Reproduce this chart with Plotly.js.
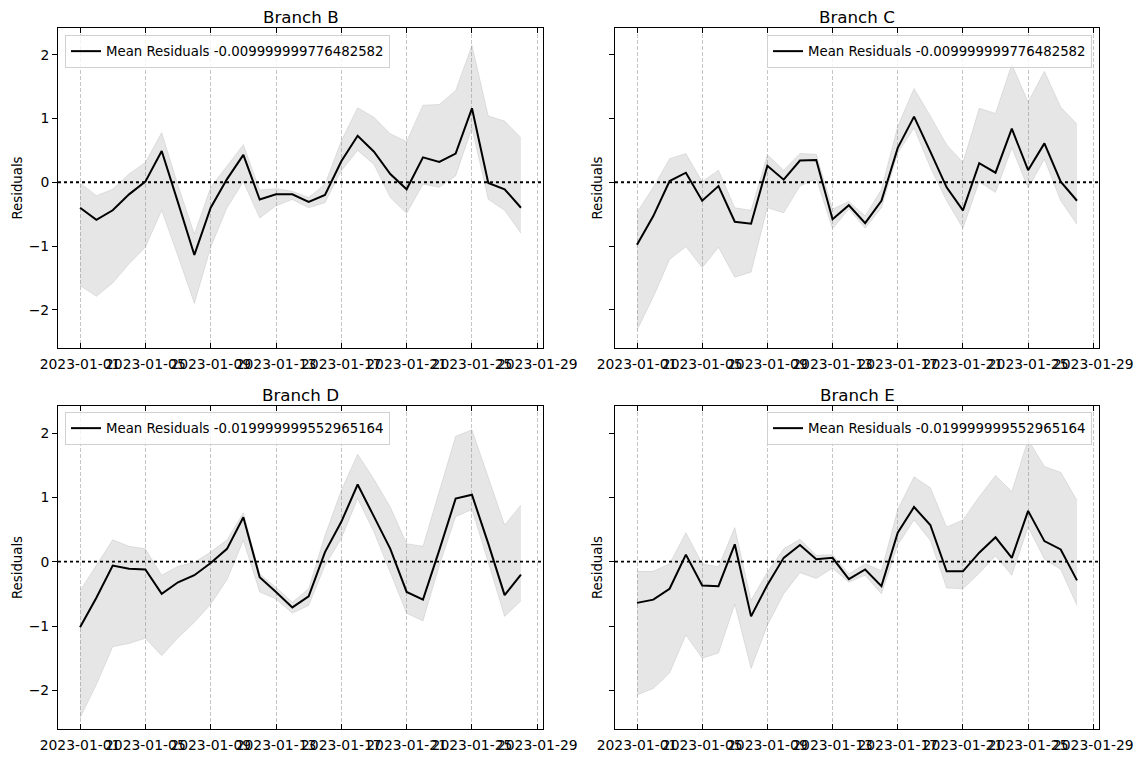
<!DOCTYPE html>
<html>
<head>
<meta charset="utf-8">
<script src="https://cdn.plot.ly/plotly-3.0.1.min.js"></script>
<style>html,body{margin:0;padding:0;background:#fff;}#chart{width:1141px;height:758px;}</style>
</head>
<body>
<div id="chart"></div>
<script>
const DATES = ['2023-01-01','2023-01-02','2023-01-03','2023-01-04','2023-01-05','2023-01-06','2023-01-07',
  '2023-01-08','2023-01-09','2023-01-10','2023-01-11','2023-01-12','2023-01-13','2023-01-14',
  '2023-01-15','2023-01-16','2023-01-17','2023-01-18','2023-01-19','2023-01-20','2023-01-21',
  '2023-01-22','2023-01-23','2023-01-24','2023-01-25','2023-01-26','2023-01-27','2023-01-28'];
const XTICKS = ['2023-01-01','2023-01-05','2023-01-09','2023-01-13','2023-01-17','2023-01-21','2023-01-25','2023-01-29'];
const YTICKS = [-2, -1, 0, 1, 2];

const TITLES = ['Branch B', 'Branch C', 'Branch D', 'Branch E'];
const LEGEND_LABELS = ['Mean Residuals -0.009999999776482582', 'Mean Residuals -0.009999999776482582',
  'Mean Residuals -0.019999999552965164', 'Mean Residuals -0.019999999552965164'];

const B_MEAN  = [-0.40,-0.59,-0.44,-0.19,0.01,0.49,-0.32,-1.14,-0.40,0.05,0.43,-0.27,-0.19,-0.19,-0.31,-0.20,0.33,0.73,0.48,0.13,-0.11,0.39,0.32,0.45,1.16,-0.01,-0.11,-0.40];
const B_UPPER = [-0.01,-0.21,-0.11,0.13,0.31,0.78,-0.05,-0.81,-0.08,0.26,0.59,-0.12,-0.10,-0.14,-0.24,-0.03,0.65,1.17,1.02,0.76,0.64,1.21,1.22,1.44,2.15,1.04,0.96,0.70];
const B_LOWER = [-1.62,-1.79,-1.58,-1.28,-1.02,-0.44,-1.16,-1.90,-1.02,-0.40,0.01,-0.56,-0.37,-0.27,-0.40,-0.32,0.18,0.50,0.28,-0.24,-0.49,-0.03,-0.08,0.10,0.85,-0.27,-0.44,-0.80];

const C_MEAN  = [-0.98,-0.53,0.02,0.15,-0.29,-0.06,-0.62,-0.65,0.26,0.04,0.34,0.35,-0.58,-0.36,-0.64,-0.29,0.54,1.03,0.48,-0.08,-0.44,0.30,0.15,0.84,0.19,0.61,0.01,-0.29];
const C_UPPER = [-0.47,-0.08,0.37,0.45,0.01,0.19,-0.40,-0.44,0.43,0.19,0.45,0.44,-0.42,-0.30,-0.53,-0.11,0.88,1.47,1.04,0.59,0.31,1.16,1.08,1.85,1.26,1.74,1.18,0.91];
const C_LOWER = [-2.32,-1.80,-1.21,-1.01,-1.34,-1.02,-1.49,-1.41,-0.40,-0.48,-0.06,0.05,-0.73,-0.42,-0.72,-0.40,0.46,0.85,0.23,-0.29,-0.72,0.01,-0.16,0.54,-0.09,0.36,-0.29,-0.66];

const D_MEAN  = [-1.02,-0.56,-0.06,-0.11,-0.12,-0.50,-0.32,-0.21,-0.02,0.20,0.69,-0.24,-0.47,-0.71,-0.54,0.15,0.62,1.20,0.70,0.20,-0.47,-0.59,0.18,0.98,1.04,0.28,-0.52,-0.20];
const D_UPPER = [-0.45,-0.06,0.34,0.24,0.20,-0.21,-0.07,-0.01,0.15,0.34,0.76,-0.19,-0.40,-0.63,-0.42,0.41,1.11,1.67,1.28,0.85,0.28,0.24,1.11,1.95,2.05,1.30,0.57,0.88];
const D_LOWER = [-2.43,-1.91,-1.32,-1.27,-1.19,-1.46,-1.18,-0.94,-0.66,-0.28,0.33,-0.47,-0.58,-0.80,-0.68,-0.06,0.36,0.98,0.46,-0.16,-0.80,-0.92,-0.06,0.70,0.81,-0.01,-0.85,-0.61];

const E_MEAN  = [-0.64,-0.59,-0.42,0.11,-0.37,-0.38,0.27,-0.85,-0.36,0.06,0.26,0.04,0.06,-0.27,-0.12,-0.38,0.45,0.85,0.57,-0.15,-0.15,0.14,0.38,0.06,0.79,0.32,0.19,-0.29];
const E_UPPER = [-0.15,-0.15,-0.03,0.45,-0.03,-0.08,0.53,-0.60,-0.16,0.20,0.35,0.10,0.11,-0.19,-0.03,-0.14,0.81,1.32,1.15,0.54,0.65,1.01,1.34,1.09,1.90,1.48,1.39,0.95];
const E_LOWER = [-2.07,-1.97,-1.73,-1.14,-1.50,-1.42,-0.66,-1.66,-0.99,-0.50,-0.17,-0.26,-0.10,-0.32,-0.21,-0.50,0.26,0.65,0.33,-0.41,-0.42,-0.18,0.09,-0.21,0.54,0.04,-0.12,-0.68];

const MEANS = [B_MEAN, C_MEAN, D_MEAN, E_MEAN];
const UPPERS = [B_UPPER, C_UPPER, D_UPPER, E_UPPER];
const LOWERS = [B_LOWER, C_LOWER, D_LOWER, E_LOWER];
const ZERO = 0;

const W = 1141, H = 758;
const FONT = 'DejaVu Sans, Liberation Sans, sans-serif';
// panel boxes in pixels: [left, right, top, bottom]
const BOXES = [[58, 543, 28, 348], [615, 1099, 28, 348], [58, 543, 406, 729], [615, 1099, 406, 729]];
const LEG_POS = [['left', 65, 35], ['right', 1092, 35], ['left', 65, 412], ['right', 1092, 412]];

const traces = [];
const layout = {
  width: W, height: H,
  margin: {l: 0, r: 0, t: 0, b: 0},
  paper_bgcolor: '#ffffff', plot_bgcolor: '#ffffff',
  font: {family: FONT, size: 13.9, color: '#000'},
  showlegend: true,
  annotations: [], shapes: []
};

for (let k = 0; k < 4; k++) {
  const sfx = k === 0 ? '' : String(k + 1);
  const xa = 'x' + sfx, ya = 'y' + sfx;
  const leg = k === 0 ? 'legend' : 'legend' + (k + 1);
  traces.push({
    x: DATES, y: LOWERS[k], xaxis: xa, yaxis: ya, type: 'scatter', mode: 'lines',
    line: {color: 'rgba(128,128,128,0.18)', width: 1}, showlegend: false, hoverinfo: 'skip', legend: leg
  });
  traces.push({
    x: DATES, y: UPPERS[k], xaxis: xa, yaxis: ya, type: 'scatter', mode: 'lines', fill: 'tonexty',
    fillcolor: 'rgba(128,128,128,0.2)',
    line: {color: 'rgba(128,128,128,0.18)', width: 1}, showlegend: false, hoverinfo: 'skip', legend: leg
  });
  traces.push({
    x: DATES, y: MEANS[k], xaxis: xa, yaxis: ya, type: 'scatter', mode: 'lines',
    line: {color: '#000000', width: 2}, name: LEGEND_LABELS[k], legend: leg
  });

  const [l, r, t, b] = BOXES[k];
  layout['xaxis' + sfx] = {
    domain: [l / W, r / W], anchor: ya, type: 'date',
    range: ['2022-12-30 15:36', '2023-01-29 08:24'],
    tickmode: 'array', tickvals: XTICKS, ticktext: XTICKS, tickangle: 0,
    ticks: 'inside', ticklen: 5, tickwidth: 1, tickcolor: '#000',
    ticklabelstandoff: 3,
    showline: true, linecolor: '#000', linewidth: 1, mirror: 'ticks',
    showgrid: true, gridcolor: '#b8b8b8', griddash: '4px,2px', gridwidth: 0.8,
    zeroline: false, tickfont: {size: 13.9, family: FONT, color: '#000'}
  };
  layout['yaxis' + sfx] = {
    domain: [1 - b / H, 1 - t / H], anchor: xa,
    range: [-2.6, 2.42],
    tickmode: 'array', tickvals: YTICKS, showticklabels: (k % 2 === 0),
    ticks: 'outside', ticklen: 5, tickwidth: 1, tickcolor: '#000',
    showline: true, linecolor: '#000', linewidth: 1, mirror: true,
    showgrid: false, zeroline: false,
    tickfont: {size: 13.9, family: FONT, color: '#000'},
    title: {text: 'Residuals', font: {size: 13.3, family: FONT, color: '#000'}, standoff: (k % 2 === 0) ? 3 : 3}
  };
  layout.shapes.push({
    type: 'line', xref: xa + ' domain', yref: ya, x0: 0, x1: 1, y0: ZERO, y1: ZERO,
    line: {color: '#000', width: 1.8, dash: 'dot'}
  });
  layout.annotations.push({
    text: TITLES[k], xref: 'paper', yref: 'paper', x: (l + r) / 2 / W, y: 1 - (t - 11) / H,
    xanchor: 'center', yanchor: 'middle', showarrow: false,
    font: {size: 16.7, family: FONT, color: '#000'}
  });
  const [side, lx, ly] = LEG_POS[k];
  layout[leg] = {
    x: lx / W, y: 1 - ly / H, xref: 'paper', yref: 'paper', xanchor: side, yanchor: 'top',
    bgcolor: 'rgba(255,255,255,0.8)', bordercolor: '#d0d0d0', borderwidth: 1,
    font: {size: 13.3, family: FONT, color: '#000'}, itemwidth: 30, tracegroupgap: 0
  };
}

Plotly.newPlot('chart', traces, layout, {displayModeBar: false, staticPlot: true});
</script>
</body>
</html>
